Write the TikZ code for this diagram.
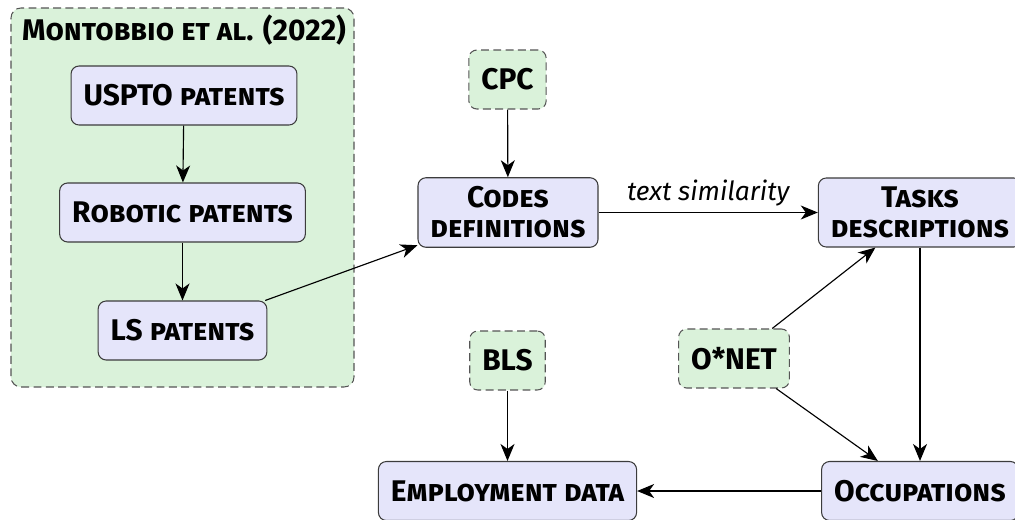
\documentclass[tikz,border=0pt]{standalone}
\usepackage{fontspec}
\setmainfont{Fira Sans}
\usepackage{tikz}
\usetikzlibrary{arrows.meta}
\definecolor{boxfill}{HTML}{E5E5FA}
\definecolor{srcfill}{HTML}{DAF2DA}
\definecolor{edge}{HTML}{3C3C3C}
\definecolor{dashedge}{HTML}{555555}
\tikzset{
  box/.style={draw=edge, fill=boxfill, rounded corners=0.16cm, line width=0.6pt, align=center, font=\bfseries\scshape\fontsize{17}{17}\selectfont, inner xsep=0.25cm, inner ysep=0.18cm, minimum height=1.18cm},
  src/.style={box, draw=dashedge, fill=srcfill, dash pattern=on 4.5pt off 2.5pt},
  groupbox/.style={draw=dashedge, fill=srcfill, dash pattern=on 4.5pt off 2.5pt, rounded corners=0.2cm, line width=0.6pt},
  grouptitle/.style={font=\bfseries\scshape\fontsize{17}{19}\selectfont},
  arr/.style={draw=black, line width=0.65pt, -{Stealth[length=0.34cm, width=0.28cm, inset=0.1cm]}},
  lbl/.style={font=\itshape\fontsize{15}{17}\selectfont}
}

\begin{document}
\begin{tikzpicture}
  \useasboundingbox (0,0) rectangle (20.3,10.38);

  % group of patent sources
  \node[groupbox, minimum width=6.86cm, minimum height=7.58cm] (group) at (3.65,6.43) {};
  \node[grouptitle] (title) at (3.68,9.77) {Montobbio et al. (2022)};

  \node[box] (uspto) at (3.68,8.47) {USPTO patents};
  \node[box] (robotic) at (3.65,6.13) {Robotic patents};
  \node[box] (ls) at (3.65,3.77) {LS patents};

  \node[src] (cpc) at (10.15,8.79) {CPC};
  \node[box] (codes) at (10.16,6.13) {Codes\\definitions};
  \node[box] (tasks) at (18.4,6.13) {Tasks\\descriptions};

  \node[src] (bls) at (10.15,3.17) {BLS};
  \node[src] (onet) at (14.68,3.21) {O*NET};

  \node[box] (employment) at (10.15,0.56) {Employment data};
  \node[box] (occupations) at (18.4,0.56) {Occupations};

  \draw[arr] (uspto) -- (robotic);
  \draw[arr] (robotic) -- (ls);
  \draw[arr] (ls) -- (codes);
  \draw[arr] (cpc) -- (codes);
  \draw[arr] (codes) -- node[lbl, above] {text similarity} (tasks);
  \draw[arr] (onet) -- (tasks);
  \draw[arr] (onet) -- (occupations);
  \draw[arr] (tasks) -- (occupations);
  \draw[arr] (bls) -- (employment);
  \draw[arr] (occupations) -- (employment);
\end{tikzpicture}
\end{document}
